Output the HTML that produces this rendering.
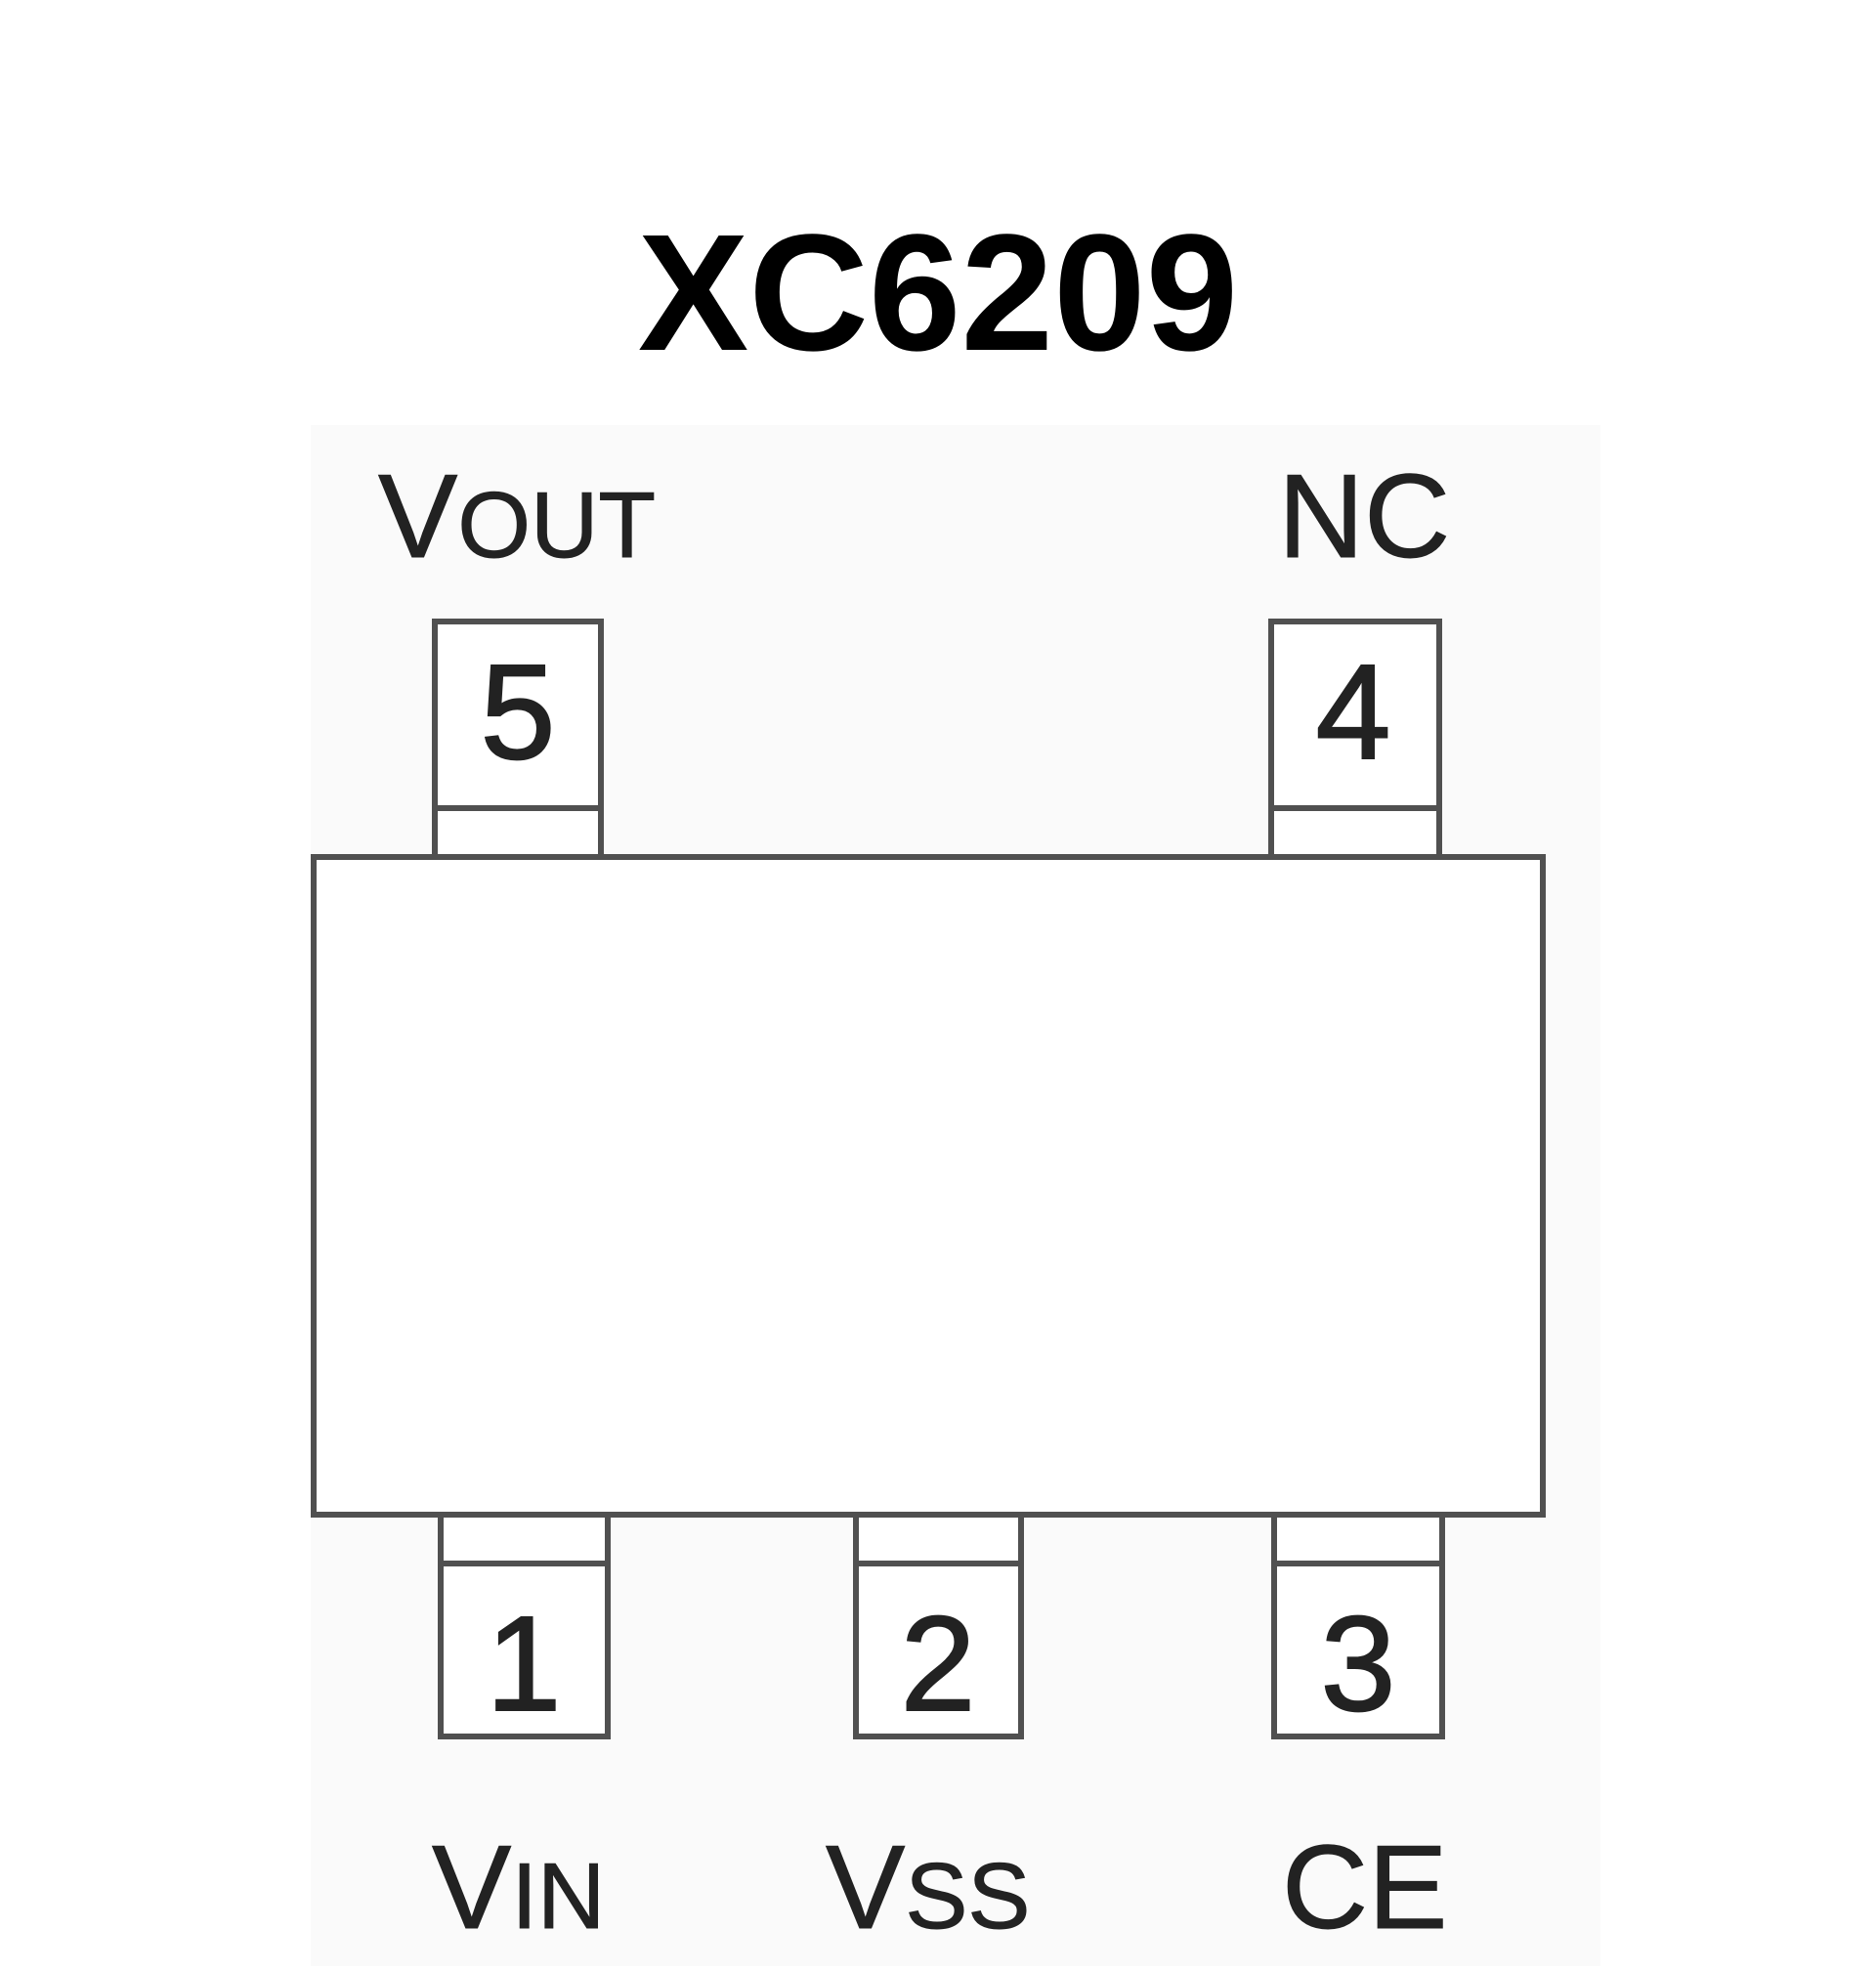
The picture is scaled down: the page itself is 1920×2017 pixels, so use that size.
<!DOCTYPE html>
<html><head><meta charset="utf-8"><style>
html,body{margin:0;padding:0;background:#fff;}
</style></head><body>
<svg width="1920" height="2012" viewBox="0 0 1920 2012" xmlns="http://www.w3.org/2000/svg">
<rect x="318" y="435" width="1320" height="1577" fill="#fafafa"/>
<text x="960" y="358" text-anchor="middle" font-family="Liberation Sans, DejaVu Sans, sans-serif" font-weight="bold" font-size="170" fill="#000">XC6209</text>
<g fill="#fff" stroke="#505050" stroke-width="6">
<rect x="445" y="636" width="170" height="241"/>
<line x1="445" y1="827" x2="615" y2="827"/>
<rect x="1301" y="636" width="172" height="241"/>
<line x1="1301" y1="827" x2="1473" y2="827"/>
<rect x="451" y="1550" width="171" height="227"/>
<line x1="451" y1="1600" x2="622" y2="1600"/>
<rect x="876" y="1550" width="169" height="227"/>
<line x1="876" y1="1600" x2="1045" y2="1600"/>
<rect x="1304" y="1550" width="172" height="227"/>
<line x1="1304" y1="1600" x2="1476" y2="1600"/>
<rect x="321" y="877" width="1258" height="673"/>
</g>
<g font-family="Liberation Sans, DejaVu Sans, sans-serif" fill="#222" font-size="138" text-anchor="middle" stroke="#222" stroke-width="2">
<text x="530" y="776">5</text>
<text x="1385" y="776">4</text>
<text x="536" y="1750">1</text>
<text x="960" y="1750">2</text>
<text x="1390" y="1750">3</text>
</g>
<g font-family="Liberation Sans, DejaVu Sans, sans-serif" fill="#222" stroke="#222" stroke-width="1">
<text x="387" y="570" font-size="122">V<tspan font-size="96">OUT</tspan></text>
<text x="1308" y="570" font-size="122">NC</text>
<text x="442" y="1973" font-size="122">V<tspan font-size="96">IN</tspan></text>
<text x="845" y="1973" font-size="122">V<tspan font-size="96">SS</tspan></text>
<text x="1312" y="1973" font-size="122">CE</text>
</g>
</svg>
</body></html>
